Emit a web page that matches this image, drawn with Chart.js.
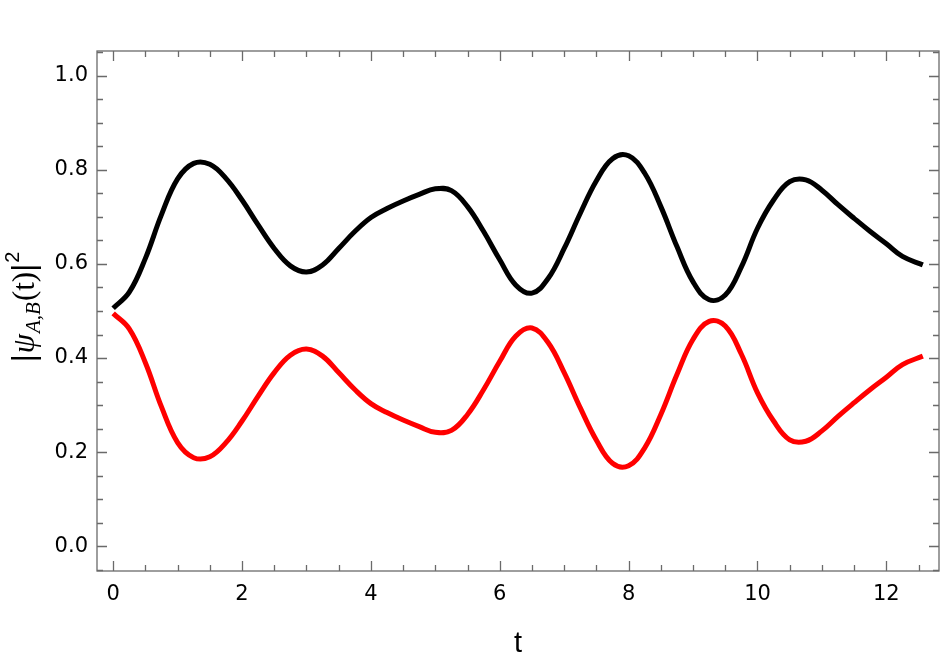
<!DOCTYPE html>
<html lang="en">
<head>
<meta charset="UTF-8">
<title>psi A,B</title>
<script src="https://cdn.jsdelivr.net/npm/chart.js@4.4.0/dist/chart.umd.min.js"></script>
<style>
    html, body { margin: 0; padding: 0; background: #fff; }
    #wrap { width: 947px; height: 663px; position: relative; }
</style>
</head>
<body>
<div id="wrap"><canvas id="myChart"></canvas></div>
<script>
// sample times
var tValues = [0, 0.25, 0.5, 0.75, 1.0, 1.25, 1.5, 1.75, 2.0, 2.25, 2.5, 2.75, 3.0,
    3.25, 3.5, 3.75, 4.0, 4.25, 4.5, 4.75, 5.0, 5.25, 5.5, 5.75, 6.0, 6.25, 6.5,
    6.75, 7.0, 7.25, 7.5, 7.75, 8.0, 8.25, 8.5, 8.75, 9.0, 9.25, 9.5, 9.75, 10.0,
    10.25, 10.5, 10.75, 11.0, 11.25, 11.5, 11.75, 12.0, 12.25, 12.566];

// |psi_A|^2  (black)
var psiA = [0.506, 0.540, 0.612, 0.705, 0.781, 0.814, 0.812, 0.782, 0.736, 0.683, 0.633, 0.596, 0.583,
    0.598, 0.633, 0.669, 0.699, 0.718, 0.734, 0.748, 0.760, 0.756, 0.722, 0.669, 0.609, 0.555, 0.538,
    0.569, 0.633, 0.708, 0.777, 0.824, 0.830, 0.793, 0.722, 0.637, 0.562, 0.524, 0.534, 0.594, 0.676,
    0.736, 0.775, 0.779, 0.757, 0.726, 0.697, 0.669, 0.643, 0.616, 0.598];

// |psi_B|^2  (red)
var psiB = [0.495, 0.462, 0.390, 0.296, 0.220, 0.188, 0.190, 0.220, 0.266, 0.319, 0.369, 0.406, 0.419,
    0.404, 0.369, 0.333, 0.303, 0.284, 0.268, 0.254, 0.242, 0.246, 0.280, 0.333, 0.393, 0.447, 0.464,
    0.433, 0.369, 0.294, 0.225, 0.176, 0.171, 0.209, 0.280, 0.365, 0.440, 0.478, 0.468, 0.408, 0.326,
    0.266, 0.226, 0.223, 0.245, 0.276, 0.305, 0.333, 0.359, 0.386, 0.404];

var xTicks = [0, 2, 4, 6, 8, 10, 12];
var yTicks = [0.0, 0.2, 0.4, 0.6, 0.8, 1.0];

function toPoints(ys) {
    var pts = [];
    for (let i = 0; i < tValues.length; i++) {
        pts.push({ x: tValues[i], y: ys[i] });
    }
    return pts;
}

// minor tick positions (frame ticks, Mathematica style)
var xMinor = [];
for (let i = 0; i <= 25; i++) xMinor.push(i * 0.5);
var yMinor = [];
for (let i = -1; i <= 21; i++) yMinor.push(i * 0.05);

var frameColor = '#6a6a6a';
var tickFont = '"DejaVu Sans", "Liberation Sans", Arial, sans-serif';

var framePlugin = {
    id: 'frame',
    afterDatasetsDraw: function (chart) {
        var ctx = chart.ctx;
        var a = chart.chartArea;
        var xs = chart.scales.x, ys = chart.scales.y;
        ctx.save();
        ctx.strokeStyle = frameColor;
        ctx.lineWidth = 1.3;
        ctx.strokeRect(a.left, a.top, a.right - a.left, a.bottom - a.top);
        ctx.beginPath();
        xMinor.forEach(function (v) {
            var px = Math.round(xs.getPixelForValue(v)) + 0.5;
            var len = (Math.abs(v / 2 - Math.round(v / 2)) < 1e-6) ? 10 : 6;
            ctx.moveTo(px, a.bottom); ctx.lineTo(px, a.bottom - len);
            ctx.moveTo(px, a.top); ctx.lineTo(px, a.top + len);
        });
        yMinor.forEach(function (v) {
            var py = Math.round(ys.getPixelForValue(v)) + 0.5;
            var len = (Math.abs(v / 0.2 - Math.round(v / 0.2)) < 1e-6) ? 10 : 6;
            ctx.moveTo(a.left, py); ctx.lineTo(a.left + len, py);
            ctx.moveTo(a.right, py); ctx.lineTo(a.right - len, py);
        });
        ctx.stroke();
        ctx.restore();
    },
    afterDraw: function (chart) {
        var ctx = chart.ctx;
        var a = chart.chartArea;
        ctx.save();
        ctx.fillStyle = '#000';
        // x title
        ctx.font = '29px "Liberation Sans", Arial, sans-serif';
        ctx.textAlign = 'center';
        ctx.textBaseline = 'alphabetic';
        ctx.fillText('t', (a.left + a.right) / 2, 652);

        // y title |psi_{A,B}(t)|^2, rotated
        var parts = [
            { s: '|', f: '31px "Liberation Sans", Arial, sans-serif', dy: 0, gap: 1 },
            { s: '\u03C8', f: 'italic 31px "Liberation Serif", "Times New Roman", serif', dy: 0, gap: 1 },
            { s: 'A,B', f: 'italic 21px "Liberation Serif", "Times New Roman", serif', dy: 6, gap: 1 },
            { s: '(t)', f: '31px "Liberation Serif", "Times New Roman", serif', dy: 0, gap: 0 },
            { s: '|', f: '31px "Liberation Sans", Arial, sans-serif', dy: 0, gap: 1 },
            { s: '2', f: '20px "Liberation Sans", Arial, sans-serif', dy: -15, gap: 0 }
        ];
        var total = 0;
        parts.forEach(function (p) { ctx.font = p.f; p.w = ctx.measureText(p.s).width + p.gap; total += p.w; });
        ctx.translate(34, 307);
        ctx.rotate(-Math.PI / 2);
        ctx.textAlign = 'left';
        var x = -total / 2;
        parts.forEach(function (p) {
            ctx.font = p.f;
            ctx.fillText(p.s, x, p.dy);
            x += p.w;
        });
        ctx.restore();
    }
};

var ctx = document.getElementById('myChart').getContext('2d');
var myChart = new Chart(ctx, {
    type: 'line',
    data: {
        datasets: [
            {
                label: 'A',
                data: toPoints(psiA),
                borderColor: '#000000',
                borderWidth: 5,
                pointRadius: 0,
                fill: false,
                tension: 0.4
            },
            {
                label: 'B',
                data: toPoints(psiB),
                borderColor: '#ff0000',
                borderWidth: 5,
                pointRadius: 0,
                fill: false,
                tension: 0.4
            }
        ]
    },
    options: {
        responsive: true,
        maintainAspectRatio: false,
        animation: false,
        layout: { padding: { top: 51, right: 8, left: 0, bottom: 0 } },
        plugins: { legend: { display: false }, tooltip: { enabled: false } },
        scales: {
            x: {
                type: 'linear',
                min: -0.251,
                max: 12.817,
                grid: { display: false, drawTicks: false },
                border: { display: false },
                afterBuildTicks: function (scale) {
                    scale.ticks = xTicks.map(function (v) { return { value: v }; });
                },
                afterFit: function (scale) { scale.height = 92; },
                ticks: {
                    padding: 11,
                    color: '#000',
                    maxRotation: 0,
                    font: { family: tickFont, size: 21 },
                    callback: function (v) { return String(v); }
                }
            },
            y: {
                type: 'linear',
                min: -0.053,
                max: 1.053,
                grid: { display: false, drawTicks: false },
                border: { display: false },
                afterBuildTicks: function (scale) {
                    scale.ticks = yTicks.map(function (v) { return { value: v }; });
                },
                afterFit: function (scale) { scale.width = 97; },
                ticks: {
                    padding: 9,
                    color: '#000',
                    font: { family: tickFont, size: 21 },
                    callback: function (v) { return Number(v).toFixed(1); }
                }
            }
        }
    },
    plugins: [framePlugin]
});
</script>
</body>
</html>
